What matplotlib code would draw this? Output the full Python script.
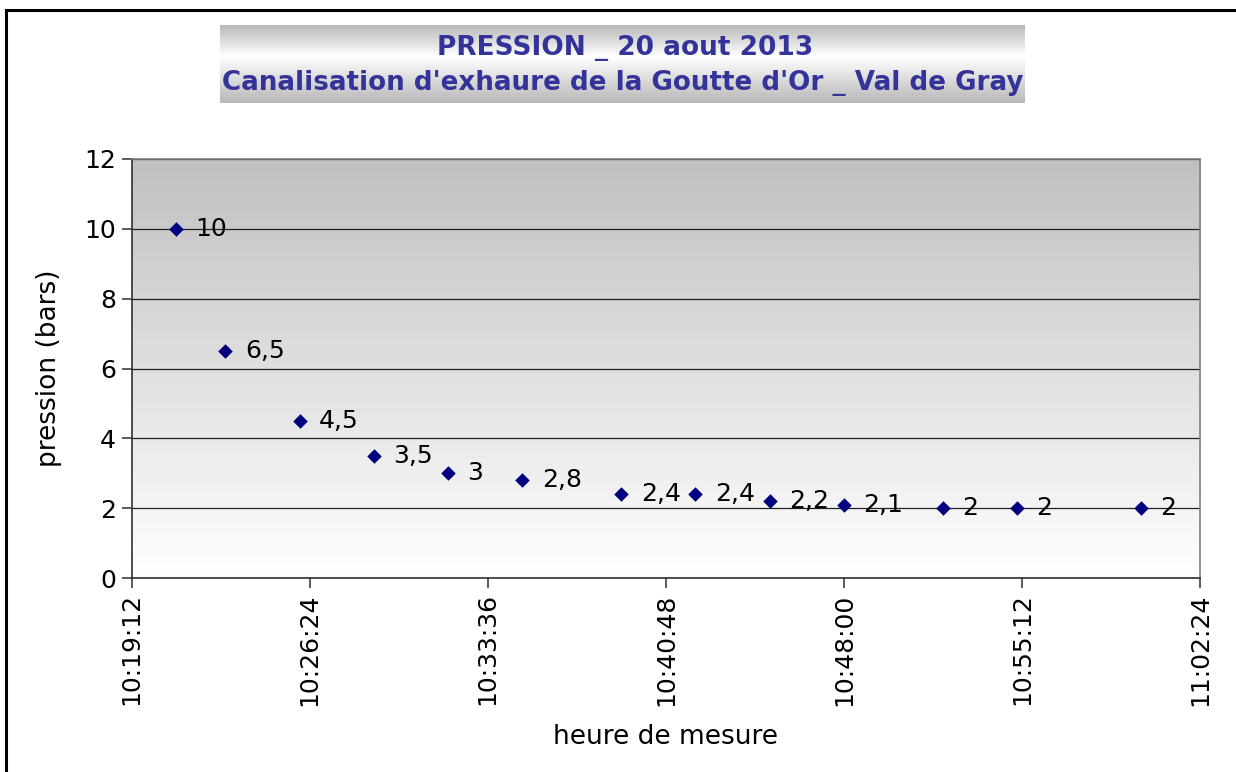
import numpy as np
import matplotlib
matplotlib.use('Agg')
import matplotlib.pyplot as plt
from matplotlib.ticker import FuncFormatter, MultipleLocator
from matplotlib.lines import Line2D

# données relevées le 20 aout 2013
heures = ['10:21:00', '10:23:00', '10:26:00', '10:29:00', '10:32:00', '10:35:00',
          '10:39:00', '10:42:00', '10:45:00', '10:48:00', '10:52:00', '10:55:00',
          '11:00:00']
pression = [10, 6.5, 4.5, 3.5, 3, 2.8, 2.4, 2.4, 2.2, 2.1, 2, 2, 2]
labels = ['10', '6,5', '4,5', '3,5', '3', '2,8', '2,4', '2,4', '2,2', '2,1', '2', '2', '2']

titre1 = 'PRESSION _ 20 aout 2013'
titre2 = "Canalisation d'exhaure de la Goutte d'Or _ Val de Gray"
x_debut, x_fin, x_pas = '10:19:12', '11:02:24', 432  # secondes


def en_secondes(h):
    hh, mm, ss = (int(v) for v in h.split(':'))
    return hh * 3600 + mm * 60 + ss


def fmt_heure(s, pos=None):
    s = int(round(s))
    return f'{s // 3600:02d}:{(s % 3600) // 60:02d}:{s % 60:02d}'


plt.rcParams['font.family'] = ['DejaVu Sans']

W, H = 1236, 772
fig = plt.figure(figsize=(W / 100, H / 100), dpi=100)

# cadre du graphique (haut et gauche visibles)
fig.add_artist(Line2D([6 / W, 6 / W], [0, 1 - 10 / H], transform=fig.transFigure,
                      color='black', lw=2.2))
fig.add_artist(Line2D([6 / W, 1], [1 - 10 / H, 1 - 10 / H], transform=fig.transFigure,
                      color='black', lw=2.2))

# zone de tracé
AX_L, AX_R, AX_T, AX_B = 131.5, 1200, 159, 578
ax = fig.add_axes([AX_L / W, 1 - AX_B / H, (AX_R - AX_L) / W, (AX_B - AX_T) / H])
x = [en_secondes(h) for h in heures]
x0, x1 = en_secondes(x_debut), en_secondes(x_fin)

grad = np.linspace(0, 1, 256).reshape(-1, 1)
ax.imshow(grad, cmap=matplotlib.colors.LinearSegmentedColormap.from_list(
    'fond', ['#c0c0c0', '#ffffff']), aspect='auto',
    extent=[0, 1, 0, 1], transform=ax.transAxes, zorder=0)

ax.set_xlim(x0, x1)
ax.set_ylim(0, 12)
ax.yaxis.set_major_locator(MultipleLocator(2))
ax.xaxis.set_major_locator(MultipleLocator(x_pas))
ax.xaxis.set_major_formatter(FuncFormatter(fmt_heure))
ax.grid(axis='y', color='#202020', lw=0.9, zorder=1)
ax.set_axisbelow(True)

ax.scatter(x, pression, marker='D', s=55, color='#000080', zorder=3, linewidths=0)
for xi, yi, lab in zip(x, pression, labels):
    ax.annotate(lab, (xi, yi), textcoords='offset points', xytext=(14, 0),
                ha='left', va='center', fontsize=18, zorder=4)

for side in ['top', 'right']:
    ax.spines[side].set_color('#808080')
    ax.spines[side].set_linewidth(1.2)
for side in ['left', 'bottom']:
    ax.spines[side].set_color('#303030')
    ax.spines[side].set_linewidth(1.2)

ax.tick_params(axis='both', direction='out', length=7, width=1.1, color='#303030',
               labelsize=18, pad=4)
ax.tick_params(axis='x', labelrotation=90)

ax.set_ylabel('pression (bars)', fontsize=19)
ax.set_xlabel('heure de mesure', fontsize=19, va='top')
ax.yaxis.set_label_coords(-(AX_L - 62) / (AX_R - AX_L), 0.5)
ax.xaxis.set_label_coords(0.5, -(724 - AX_B) / (AX_B - AX_T))

# bandeau de titre avec dégradé
tax = fig.add_axes([220 / W, 1 - 103 / H, 805 / W, 78 / H])
tgrad = np.concatenate([np.linspace(0, 1, 40), np.linspace(1, 0, 60)]).reshape(-1, 1)
tax.imshow(tgrad, cmap=matplotlib.colors.LinearSegmentedColormap.from_list(
    'titre', ['#b8b8b8', '#ffffff']), aspect='auto', extent=[0, 1, 0, 1],
    vmin=0, vmax=1)
tax.set_xlim(0, 1)
tax.set_ylim(0, 1)
tax.axis('off')
tax.text(0.503, 0.71, titre1, ha='center', va='center', fontsize=19,
         fontweight='bold', color='#333399')
tax.text(0.5, 0.25, titre2, ha='center', va='center', fontsize=18.8,
         fontweight='bold', color='#333399')

fig.savefig('out.png', dpi=100)
